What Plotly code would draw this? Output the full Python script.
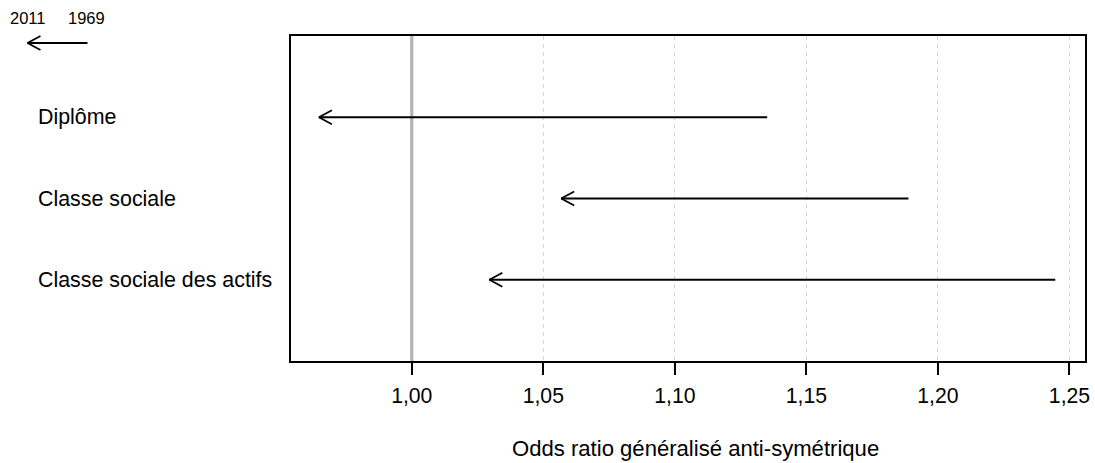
import plotly.graph_objects as go

categories = ["Diplôme", "Classe sociale", "Classe sociale des actifs"]
row_pos = [3, 2, 1]
or_1969 = [1.1351, 1.1888, 1.2446]
or_2011 = [0.9647, 1.0568, 1.0295]
tick_vals = [1.00, 1.05, 1.10, 1.15, 1.20, 1.25]
ref_value = 1.0
x_range = [0.9541, 1.2559]
y_range = [0, 4]
legend_years = ["2011", "1969"]
x_title = "Odds ratio généralisé anti-symétrique"

FONT = "Liberation Sans, Arial, Helvetica, sans-serif"
FS = 21.2
LW = 1.8
HEAD_DX, HEAD_DY = 13, 7

fig = go.Figure()

# reference line (trace so it sits above the grid, below the arrows)
fig.add_trace(go.Scatter(x=[ref_value, ref_value], y=y_range, mode="lines",
                         line=dict(color="#b3b3b3", width=3.2),
                         showlegend=False, hoverinfo="skip"))

# shafts
for cat, y, a, b in zip(categories, row_pos, or_1969, or_2011):
    fig.add_trace(go.Scatter(x=[a, b], y=[y, y], mode="lines",
                             line=dict(color="black", width=LW),
                             showlegend=False, hoverinfo="skip", name=cat))
    for s in (-1, 1):
        fig.add_annotation(x=b, y=y, xref="x", yref="y", text="", showarrow=True,
                           arrowhead=0, arrowwidth=LW, arrowcolor="black",
                           ax=HEAD_DX, ay=s * HEAD_DY, standoff=0, borderpad=0, borderwidth=0)
    fig.add_annotation(x=-0.3215, y=y, xref="paper", yref="y", text=cat, showarrow=False,
                       xanchor="left", yanchor="middle", font=dict(family=FONT, size=21.4, color="black"))

# legend arrow (paper coordinates)
leg_head_x = -0.3319
leg_y = 0.9785
fig.add_annotation(x=leg_head_x, y=leg_y, xref="paper", yref="paper", text="", showarrow=True,
                   arrowhead=0, arrowwidth=LW, arrowcolor="black", ax=60, ay=0,
                   standoff=0, borderpad=0, borderwidth=0)
for s in (-1, 1):
    fig.add_annotation(x=leg_head_x, y=leg_y, xref="paper", yref="paper", text="", showarrow=True,
                       arrowhead=0, arrowwidth=LW, arrowcolor="black", ax=HEAD_DX, ay=s * HEAD_DY,
                       standoff=0, borderpad=0, borderwidth=0)
for txt, xp in zip(legend_years, [-0.3565, -0.2835]):
    fig.add_annotation(x=xp, y=1.0554, xref="paper", yref="paper", text=txt, showarrow=False,
                       xanchor="left", yanchor="middle", font=dict(family=FONT, size=16.5, color="black"))

# x title
fig.add_annotation(x=0.51, y=-0.2677, xref="paper", yref="paper", text=x_title, showarrow=False,
                   xanchor="center", yanchor="middle", font=dict(family=FONT, size=22.1, color="black"))

fig.update_layout(
    width=1095, height=463,
    margin=dict(l=291, r=10, t=36, b=102, autoexpand=False),
    paper_bgcolor="white", plot_bgcolor="white",
    separators=", ",
    showlegend=False,
    font=dict(family=FONT, size=FS, color="black"),
    xaxis=dict(range=x_range, tickvals=tick_vals, tickformat=".2f", automargin=False,
               showgrid=True, gridcolor="#d3d3d3", gridwidth=1, griddash="4px,4px",
               zeroline=False, showline=True, linecolor="black", linewidth=2, mirror=True,
               ticks="outside", ticklen=12, tickwidth=1.5, tickcolor="black",
               ticklabelstandoff=3,
               tickfont=dict(family=FONT, size=FS, color="black")),
    yaxis=dict(range=y_range, showticklabels=False, ticks="", showgrid=False, zeroline=False,
               automargin=False,
               showline=True, linecolor="black", linewidth=2, mirror=True),
)

fig.write_html("out.html", config={"displayModeBar": False},
               post_script="document.body.style.margin='0';document.body.style.padding='0';")
